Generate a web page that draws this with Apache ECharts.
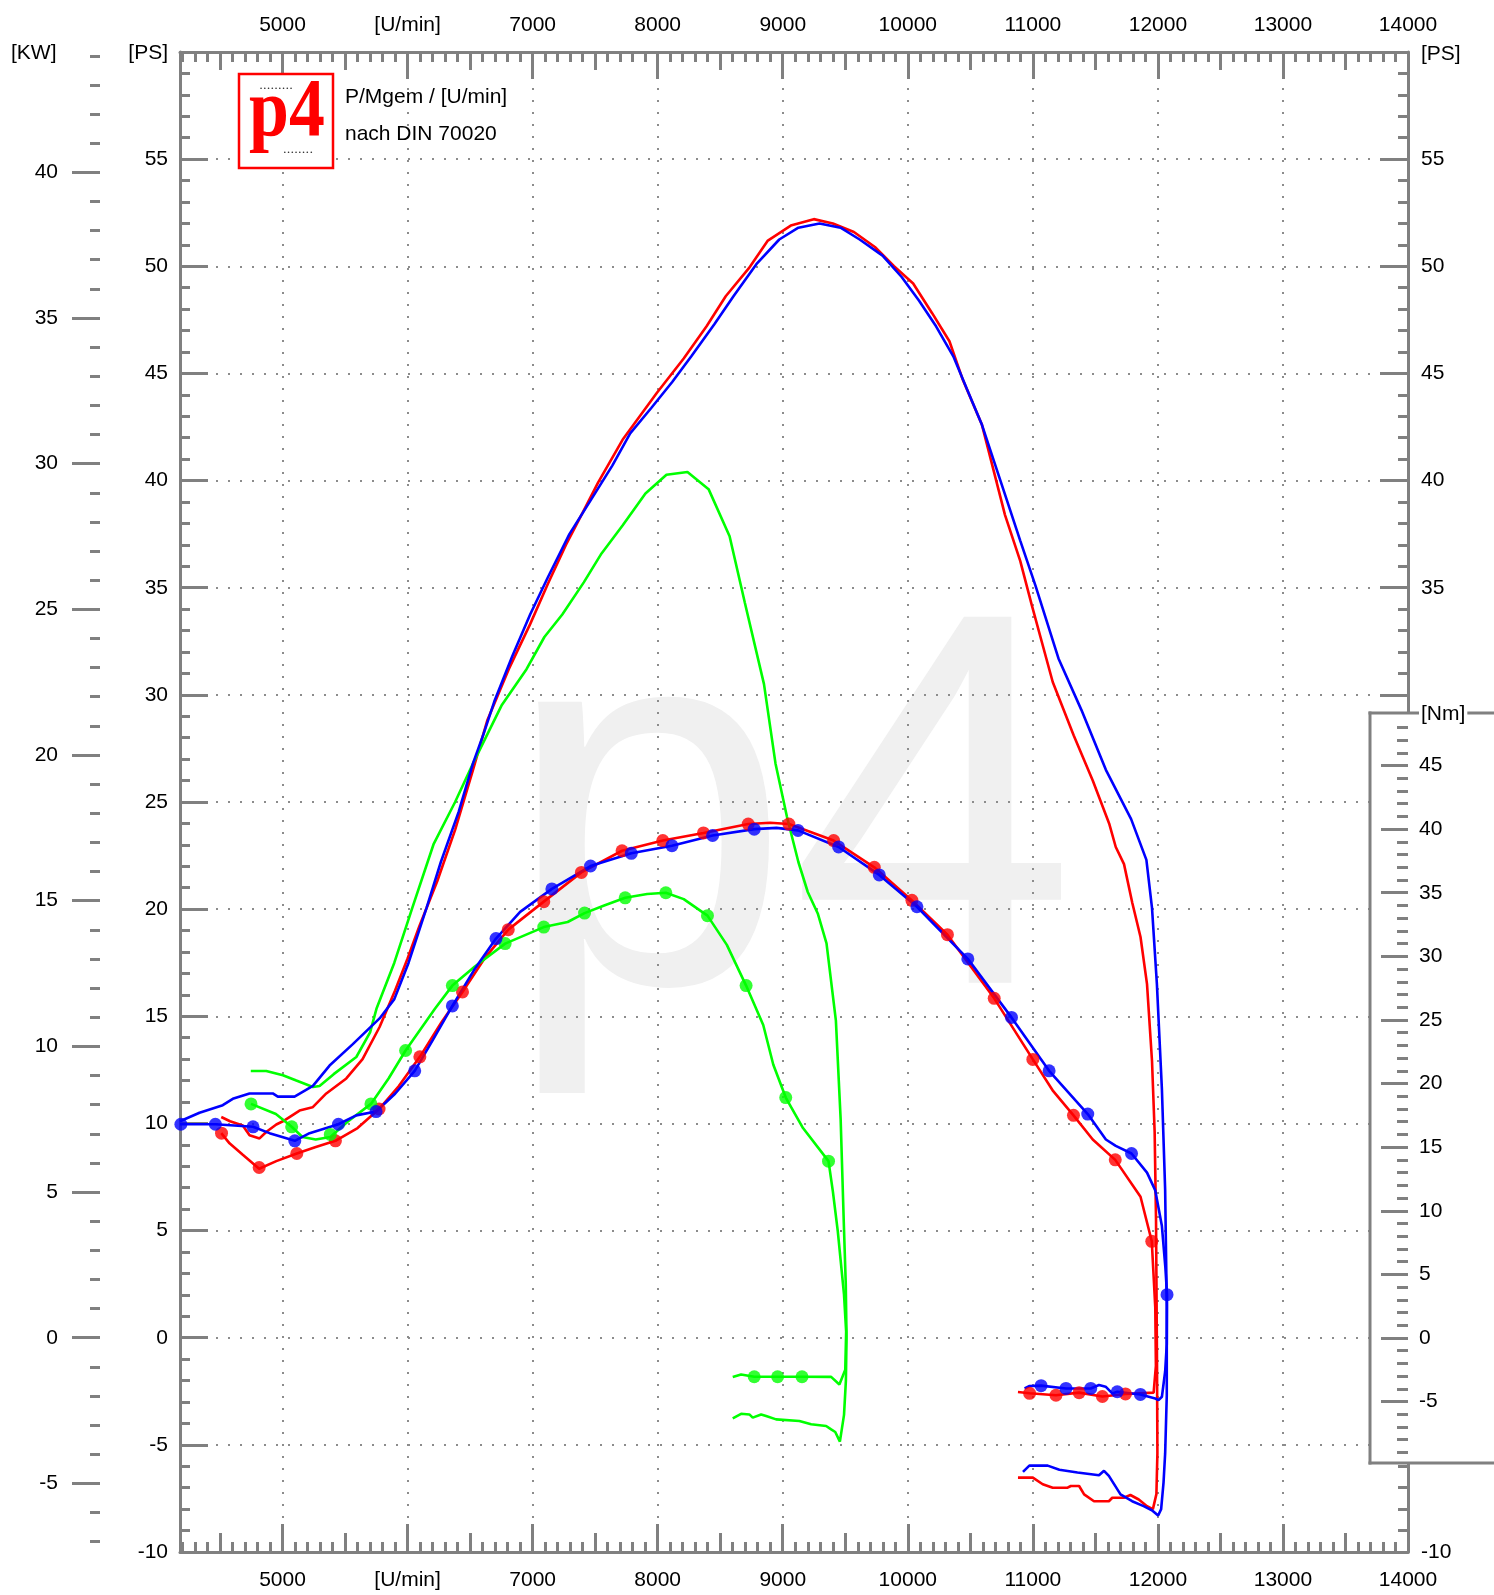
<!DOCTYPE html>
<html><head><meta charset="utf-8">
<script src="https://cdn.jsdelivr.net/npm/echarts@6/dist/echarts.min.js"></script>
<style>html,body{margin:0;padding:0;background:#fff}#c{width:1494px;height:1595px}</style>
</head><body><div id="c"></div>
<script>
// ---------------- data ----------------
const rpmMin = 4180, rpmMax = 14000;
const psMin = -10, psMax = 60;
const PS_TO_KW = 0.73549875;
const nmMin = -9.83, nmMax = 49.13;

const xMajorTicks = [5000, 6000, 7000, 8000, 9000, 10000, 11000, 12000, 13000, 14000];
const xTickLabels = ['5000', '[U/min]', '7000', '8000', '9000', '10000', '11000', '12000', '13000', '14000'];
const xMidTicks = [4500, 5500, 6500, 7500, 8500, 9500, 10500, 11500, 12500, 13500];
const kwMajorTicks = [-5, 0, 5, 10, 15, 20, 25, 30, 35, 40];
const nmMajorTicks = [-5, 0, 5, 10, 15, 20, 25, 30, 35, 40, 45];
const psRightLabels = [-10, 35, 40, 45, 50, 55];

// power curves [rpm, PS]
const redPower = [[4510,10.3],[4580,10.1],[4682,9.9],[4736,9.45],[4816,9.3],[4869,9.6],[4950,9.95],[5003,10.1],[5136,10.6],[5240,10.75],[5350,11.4],[5510,12.1],[5640,13.0],[5776,14.5],[5900,16.2],[6000,17.7],[6094,19.2],[6237,21.3],[6380,23.7],[6523,26.5],[6637,28.8],[6809,31.2],[6980,33.3],[7123,35.2],[7266,37.0],[7400,38.5],[7523,39.9],[7719,41.9],[7994,44.1],[8208,45.7],[8391,47.2],[8544,48.6],[8728,49.9],[8881,51.2],[9064,51.9],[9248,52.2],[9401,52.0],[9569,51.6],[9737,50.9],[9890,50.0],[10043,49.2],[10196,47.8],[10333,46.5],[10440,44.7],[10593,42.6],[10685,40.5],[10777,38.4],[10899,36.25],[10991,34.2],[11159,30.6],[11327,28.1],[11479,26.0],[11610,24.0],[11663,22.9],[11729,22.1],[11795,20.3],[11861,18.7],[11913,16.5],[11953,12.9],[11974,9.6],[11985,5.5],[11993,-1.3],[11996,-5.4],[11988,-7.3],[11960,-8.0],[11913,-7.86],[11847,-7.55],[11780,-7.34],[11728,-7.47],[11635,-7.47],[11608,-7.63],[11489,-7.63],[11410,-7.31],[11370,-6.92],[11304,-6.92],[11278,-7.0],[11159,-7.0],[11079,-6.84],[11000,-6.53],[10881,-6.53]];
const bluePower = [[4180,10.1],[4336,10.5],[4522,10.85],[4602,11.15],[4736,11.4],[4922,11.4],[4962,11.25],[5096,11.25],[5243,11.75],[5376,12.7],[5562,13.7],[5776,14.9],[5894,15.8],[6008,17.5],[6151,20.05],[6266,22.2],[6409,24.55],[6523,26.8],[6609,28.2],[6694,29.7],[6837,31.8],[6980,33.75],[7123,35.5],[7294,37.5],[7466,39.1],[7637,40.7],[7780,42.2],[7950,43.4],[8116,44.6],[8269,45.8],[8453,47.3],[8606,48.6],[8789,50.1],[8972,51.25],[9125,51.8],[9294,52.0],[9462,51.8],[9615,51.25],[9798,50.5],[9951,49.5],[10089,48.4],[10226,47.2],[10364,45.8],[10471,44.3],[10593,42.6],[10746,39.9],[10899,37.2],[11021,35.1],[11205,31.7],[11388,29.3],[11584,26.5],[11786,24.2],[11908,22.3],[11953,20.05],[11992,16.5],[12032,11.6],[12058,6.9],[12071,1.45],[12071,-2.7],[12058,-5.4],[12045,-6.76],[12026,-8.0],[12002,-8.3],[11952,-8.05],[11886,-7.86],[11794,-7.63],[11701,-7.31],[11608,-6.45],[11569,-6.21],[11529,-6.42],[11357,-6.29],[11212,-6.16],[11119,-5.97],[10972,-5.97],[10921,-6.26]];
const greenPower = [[4746,12.45],[4870,12.45],[5003,12.25],[5110,12.0],[5243,11.7],[5296,11.75],[5409,12.3],[5590,13.1],[5700,14.25],[5751,15.35],[5894,17.5],[6037,20.05],[6209,23.05],[6380,25.0],[6523,26.8],[6751,29.5],[6951,31.2],[7094,32.7],[7237,33.75],[7409,35.25],[7551,36.6],[7719,37.9],[7902,39.4],[8070,40.27],[8238,40.4],[8407,39.6],[8575,37.4],[8697,34.3],[8850,30.5],[8942,26.8],[9034,24.3],[9125,22.2],[9200,20.8],[9280,19.8],[9350,18.4],[9400,16.0],[9425,14.8],[9463,10.2],[9488,5.4],[9504,2.5],[9510,0],[9505,-2.0],[9490,-3.6],[9457,-4.85],[9420,-4.4],[9387,-4.28],[9347,-4.12],[9227,-4.04],[9133,-3.89],[8947,-3.81],[8867,-3.65],[8827,-3.58],[8760,-3.73],[8733,-3.58],[8667,-3.55],[8600,-3.76]];

// torque curves [rpm, Nm]
const redTorque = [[4510,16.1],[4576,15.3],[4682,14.4],[4813,13.3],[4950,13.9],[5114,14.5],[5260,15.0],[5423,15.5],[5600,16.5],[5772,18.0],[5930,19.8],[6098,22.1],[6270,24.8],[6439,27.2],[6620,29.9],[6805,32.1],[7089,34.3],[7390,36.6],[7715,38.3],[8041,39.1],[8366,39.7],[8724,40.4],[8900,40.5],[9049,40.4],[9407,39.1],[9732,37.0],[10033,34.4],[10317,31.7],[10691,26.7],[11000,21.9],[11163,19.4],[11325,17.5],[11479,15.6],[11659,14.0],[11861,11.1],[11951,7.6],[11979,2.4],[11984,-2.2],[11966,-4.3],[11952,-4.35],[11741,-4.4],[11556,-4.6],[11370,-4.3],[11185,-4.5],[10974,-4.35],[10881,-4.25]];
const blueTorque = [[4180,16.8],[4463,16.8],[4764,16.6],[4896,16.1],[5098,15.5],[5216,16.1],[5447,16.8],[5589,17.5],[5748,17.8],[5900,19.2],[6057,21.0],[6200,23.4],[6358,26.1],[6530,28.9],[6707,31.4],[6900,33.5],[7154,35.3],[7463,37.1],[7789,38.1],[8114,38.7],[8439,39.5],[8772,40.0],[8950,40.1],[9122,39.9],[9447,38.6],[9772,36.4],[10073,33.9],[10480,29.8],[10829,25.2],[11130,21.0],[11439,17.6],[11584,15.6],[11663,15.1],[11789,14.5],[11913,13.0],[11979,11.6],[12032,8.8],[12060,5.5],[12073,3.4],[12071,-0.5],[12058,-2.64],[12032,-4.62],[12005,-4.89],[11979,-4.76],[11860,-4.44],[11675,-4.23],[11635,-4.36],[11582,-3.83],[11529,-3.7],[11463,-3.97],[11265,-3.97],[11066,-3.75],[10974,-3.78],[10934,-3.97]];
const greenTorque = [[4748,18.4],[4947,17.6],[5073,16.6],[5159,15.8],[5265,15.6],[5382,15.8],[5520,17.0],[5707,18.4],[5848,20.4],[5984,22.6],[6220,25.9],[6358,27.7],[6538,29.2],[6780,31.0],[7089,32.3],[7280,32.7],[7415,33.4],[7572,34.0],[7740,34.6],[7916,34.9],[8065,35.0],[8208,34.5],[8398,33.2],[8553,30.9],[8707,27.7],[8844,24.6],[8924,21.5],[9024,18.9],[9162,16.5],[9366,13.9],[9401,11.5],[9440,8.4],[9490,3.4],[9507,0.5],[9500,-2.5],[9453,-3.66],[9387,-3.06],[9154,-3.05],[8959,-3.05],[8772,-3.05],[8667,-2.87],[8600,-3.06]];

// marker points on the torque curves [rpm, Nm]
const redTorqueMarks = [[4512,16.1],[4813,13.4],[5114,14.5],[5423,15.5],[5772,18.0],[6098,22.1],[6439,27.2],[6805,32.1],[7089,34.3],[7390,36.6],[7715,38.3],[8041,39.1],[8366,39.7],[8724,40.4],[9049,40.4],[9407,39.1],[9732,37.0],[10033,34.4],[10317,31.7],[10691,26.7],[11000,21.9],[11325,17.5],[11659,14.0],[11951,7.6],[10974,-4.35],[11185,-4.5],[11370,-4.3],[11556,-4.6],[11741,-4.4]];
const blueTorqueMarks = [[4187,16.8],[4463,16.8],[4764,16.6],[5098,15.5],[5447,16.8],[5748,17.8],[6057,21.0],[6358,26.1],[6707,31.4],[7154,35.3],[7463,37.1],[7789,38.1],[8114,38.7],[8439,39.5],[8772,40.0],[9122,39.9],[9447,38.6],[9772,36.4],[10073,33.9],[10480,29.8],[10829,25.2],[11130,21.0],[11439,17.6],[11789,14.5],[12073,3.4],[11066,-3.75],[11265,-3.97],[11463,-3.97],[11675,-4.23],[11860,-4.44]];
const greenTorqueMarks = [[4748,18.4],[5073,16.6],[5382,16.0],[5707,18.4],[5984,22.6],[6358,27.7],[6780,31.0],[7089,32.3],[7415,33.4],[7740,34.6],[8065,35.0],[8398,33.2],[8707,27.7],[9024,18.9],[9366,13.9],[8772,-3.05],[8959,-3.05],[9154,-3.05]];

// ---------------- helpers ----------------
function range(a, b, s) { const r = []; for (let v = a; v <= b + 1e-9; v += s) r.push(Math.round(v * 1000) / 1000); return r; }
const xMinorTicks = range(4200, 14000, 100).filter(v => v % 500 !== 0);
const kwMinorTicks = range(-7, 44, 1).filter(v => v % 5 !== 0);
const nmMinorTicks = range(-9, 48, 1).filter(v => v % 5 !== 0);

const FONT = '"Liberation Sans", Arial, Helvetica, sans-serif';
const FS = 21;
const GRAY = '#808080';
const DOT = { color: '#8c8c8c', width: 2, type: [2, 10] };
const LBL = { fontSize: FS, color: '#000', fontFamily: FONT };
const TXT = FS + 'px "Liberation Sans", Arial, sans-serif';

function fmtX(v) { const i = xMajorTicks.indexOf(v); return i >= 0 ? xTickLabels[i] : ''; }

function xAxisDef(grid, pos, ticks, len, withLine, withLabel, margin, split) {
  return {
    gridIndex: grid, type: 'value', position: pos, min: rpmMin, max: rpmMax,
    axisLine: { show: withLine, onZero: false, lineStyle: { color: GRAY, width: 3 } },
    axisTick: { show: true, inside: true, length: len, customValues: ticks, lineStyle: { color: GRAY, width: 3 } },
    axisLabel: withLabel ? Object.assign({ show: true, customValues: ticks, formatter: fmtX, margin: margin }, LBL) : { show: false },
    splitLine: split ? { show: true, lineStyle: DOT } : { show: false }
  };
}

const xAxes = [
  xAxisDef(0, 'bottom', xMajorTicks, 28, true, true, 18, true),
  xAxisDef(0, 'bottom', xMidTicks, 19, false, false, 0, false),
  xAxisDef(0, 'bottom', xMinorTicks, 10, false, false, 0, false),
  xAxisDef(0, 'top', xMajorTicks, 27, true, true, 16, false),
  xAxisDef(0, 'top', xMidTicks, 18, false, false, 0, false),
  xAxisDef(0, 'top', xMinorTicks, 10, false, false, 0, false),
  { gridIndex: 1, type: 'value', min: rpmMin, max: rpmMax, show: false }
];

function psAxis(pos, margin, split, shown) {
  return {
    gridIndex: 0, type: 'value', position: pos, min: psMin, max: psMax, interval: 5,
    axisLine: { show: true, onZero: false, lineStyle: { color: GRAY, width: 3 } },
    axisTick: { show: true, inside: true, length: 28, lineStyle: { color: GRAY, width: 3 } },
    minorTick: { show: true, splitNumber: 5, length: 10, lineStyle: { color: GRAY, width: 3 } },
    axisLabel: Object.assign({ show: true, margin: margin, showMaxLabel: false, showMinLabel: true,
      formatter: v => (!shown || shown.indexOf(v) >= 0) ? String(v) : '' }, LBL),
    splitLine: split ? { show: true, lineStyle: DOT } : { show: false },
    minorSplitLine: { show: false }
  };
}

function tickAxis(grid, pos, offset, min, max, ticks, len, inside, label, margin, z) {
  return {
    gridIndex: grid, type: 'value', position: pos, offset: offset, min: min, max: max, z: z,
    axisLine: { show: false, onZero: false },
    axisTick: { show: true, inside: inside, length: len, customValues: ticks, lineStyle: { color: GRAY, width: 3 } },
    axisLabel: label ? Object.assign({ show: true, customValues: ticks, margin: margin }, LBL) : { show: false },
    splitLine: { show: false }
  };
}

const yAxes = [
  psAxis('left', 12, true, null),
  psAxis('right', 13, false, psRightLabels),
  tickAxis(0, 'left', 80, psMin * PS_TO_KW, psMax * PS_TO_KW, kwMajorTicks, 28, false, true, 42, 0),
  tickAxis(0, 'left', 80, psMin * PS_TO_KW, psMax * PS_TO_KW, kwMinorTicks, 10, false, false, 0, 0),
  tickAxis(1, 'right', 0, nmMin, nmMax, nmMajorTicks, 27, true, true, 11, 110),
  tickAxis(1, 'right', 0, nmMin, nmMax, nmMinorTicks, 11, true, false, 0, 110)
];

function lineSeries(data, color, xi, yi, z) {
  return { type: 'line', data: data, xAxisIndex: xi, yAxisIndex: yi, showSymbol: false, symbol: 'none',
    lineStyle: { color: color, width: 2.6 }, itemStyle: { color: color }, z: z, silent: true, clip: false };
}
function markSeries(data, color, z) {
  return { type: 'scatter', data: data, xAxisIndex: 6, yAxisIndex: 4, symbol: 'circle', symbolSize: 13,
    itemStyle: { color: color }, z: z, silent: true, clip: false };
}

const RED = '#ff0000', BLUE = '#0000ff', GREEN = '#00ff00';

function label(text, x, y, align, extra) {
  return { type: 'text', z: 21, silent: true, style: Object.assign({ text: text, x: x, y: y, fill: '#000', font: TXT, textAlign: align, verticalAlign: 'middle', textVerticalAlign: 'middle' }, extra || {}) };
}

const option = {
  animation: false,
  backgroundColor: '#fff',
  grid: [
    { left: 180, right: 86, top: 52, bottom: 43, containLabel: false },
    { left: 180, right: 86, top: 713, bottom: 132, containLabel: false }
  ],
  xAxis: xAxes,
  yAxis: yAxes,
  series: [
    lineSeries(redPower, RED, 0, 0, 3),
    lineSeries(greenPower, GREEN, 0, 0, 4),
    lineSeries(bluePower, BLUE, 0, 0, 5),
    lineSeries(redTorque, RED, 6, 4, 3),
    lineSeries(greenTorque, GREEN, 6, 4, 4),
    lineSeries(blueTorque, BLUE, 6, 4, 5),
    markSeries(redTorqueMarks, RED, 6),
    markSeries(greenTorqueMarks, GREEN, 7),
    markSeries(blueTorqueMarks, BLUE, 8)
  ],
  graphic: [
    // watermark
    { type: 'text', z: -1, silent: true, x: 505, y: 836, scaleX: 0.965, scaleY: 1,
      style: { text: 'p4', x: 0, y: 0, fill: '#f0f0f0', font: '532px "Liberation Sans", Arial, sans-serif', textAlign: 'left', textVerticalAlign: 'middle', verticalAlign: 'middle' } },
    // logo
    { type: 'rect', z: 20, silent: true, shape: { x: 239, y: 74, width: 94, height: 94 }, style: { fill: '#fff', stroke: '#ff0000', lineWidth: 2.5 } },
    { type: 'text', z: 21, silent: true, x: 287, y: 114, scaleX: 0.92, scaleY: 1.05,
      style: { text: 'p4', x: 0, y: 0, fill: '#ff0000', font: 'bold 78px "Liberation Serif", "Times New Roman", serif', textAlign: 'center', textVerticalAlign: 'middle', verticalAlign: 'middle' } },
    { type: 'text', z: 21, silent: true, style: { text: '• • • • • • • • •', x: 276, y: 88, fill: '#333', font: '6px sans-serif', textAlign: 'center', verticalAlign: 'middle', textVerticalAlign: 'middle' } },
    { type: 'text', z: 21, silent: true, style: { text: '• • • • • • • •', x: 298, y: 152, fill: '#333', font: '6px sans-serif', textAlign: 'center', verticalAlign: 'middle', textVerticalAlign: 'middle' } },
    // title
    label('P/Mgem / [U/min]', 345, 97, 'left'),
    label('nach DIN 70020', 345, 134, 'left'),
    // unit labels
    label('[KW]', 11, 53, 'left'),
    label('[PS]', 168, 53, 'right'),
    label('[PS]', 1421, 54, 'left'),
    // Nm box
    { type: 'rect', z: 100, silent: true, shape: { x: 1370, y: 713, width: 130, height: 750 }, style: { fill: '#fff', stroke: null } },
    { type: 'line', z: 101, silent: true, shape: { x1: 1370, y1: 711.5, x2: 1370, y2: 1464.5 }, style: { stroke: GRAY, lineWidth: 3 } },
    { type: 'line', z: 101, silent: true, shape: { x1: 1368.5, y1: 713, x2: 1494, y2: 713 }, style: { stroke: GRAY, lineWidth: 3 } },
    { type: 'line', z: 101, silent: true, shape: { x1: 1368.5, y1: 1463, x2: 1494, y2: 1463 }, style: { stroke: GRAY, lineWidth: 3 } },
    { type: 'text', z: 102, silent: true, style: { text: '[Nm]', x: 1419, y: 714, fill: '#000', font: TXT, textAlign: 'left', verticalAlign: 'middle', textVerticalAlign: 'middle', backgroundColor: '#fff', padding: [0, 2, 0, 2] } }
  ]
};

const chart = echarts.init(document.getElementById('c'), null, { renderer: 'canvas', width: 1494, height: 1595 });
chart.setOption(option);
</script>
</body></html>
